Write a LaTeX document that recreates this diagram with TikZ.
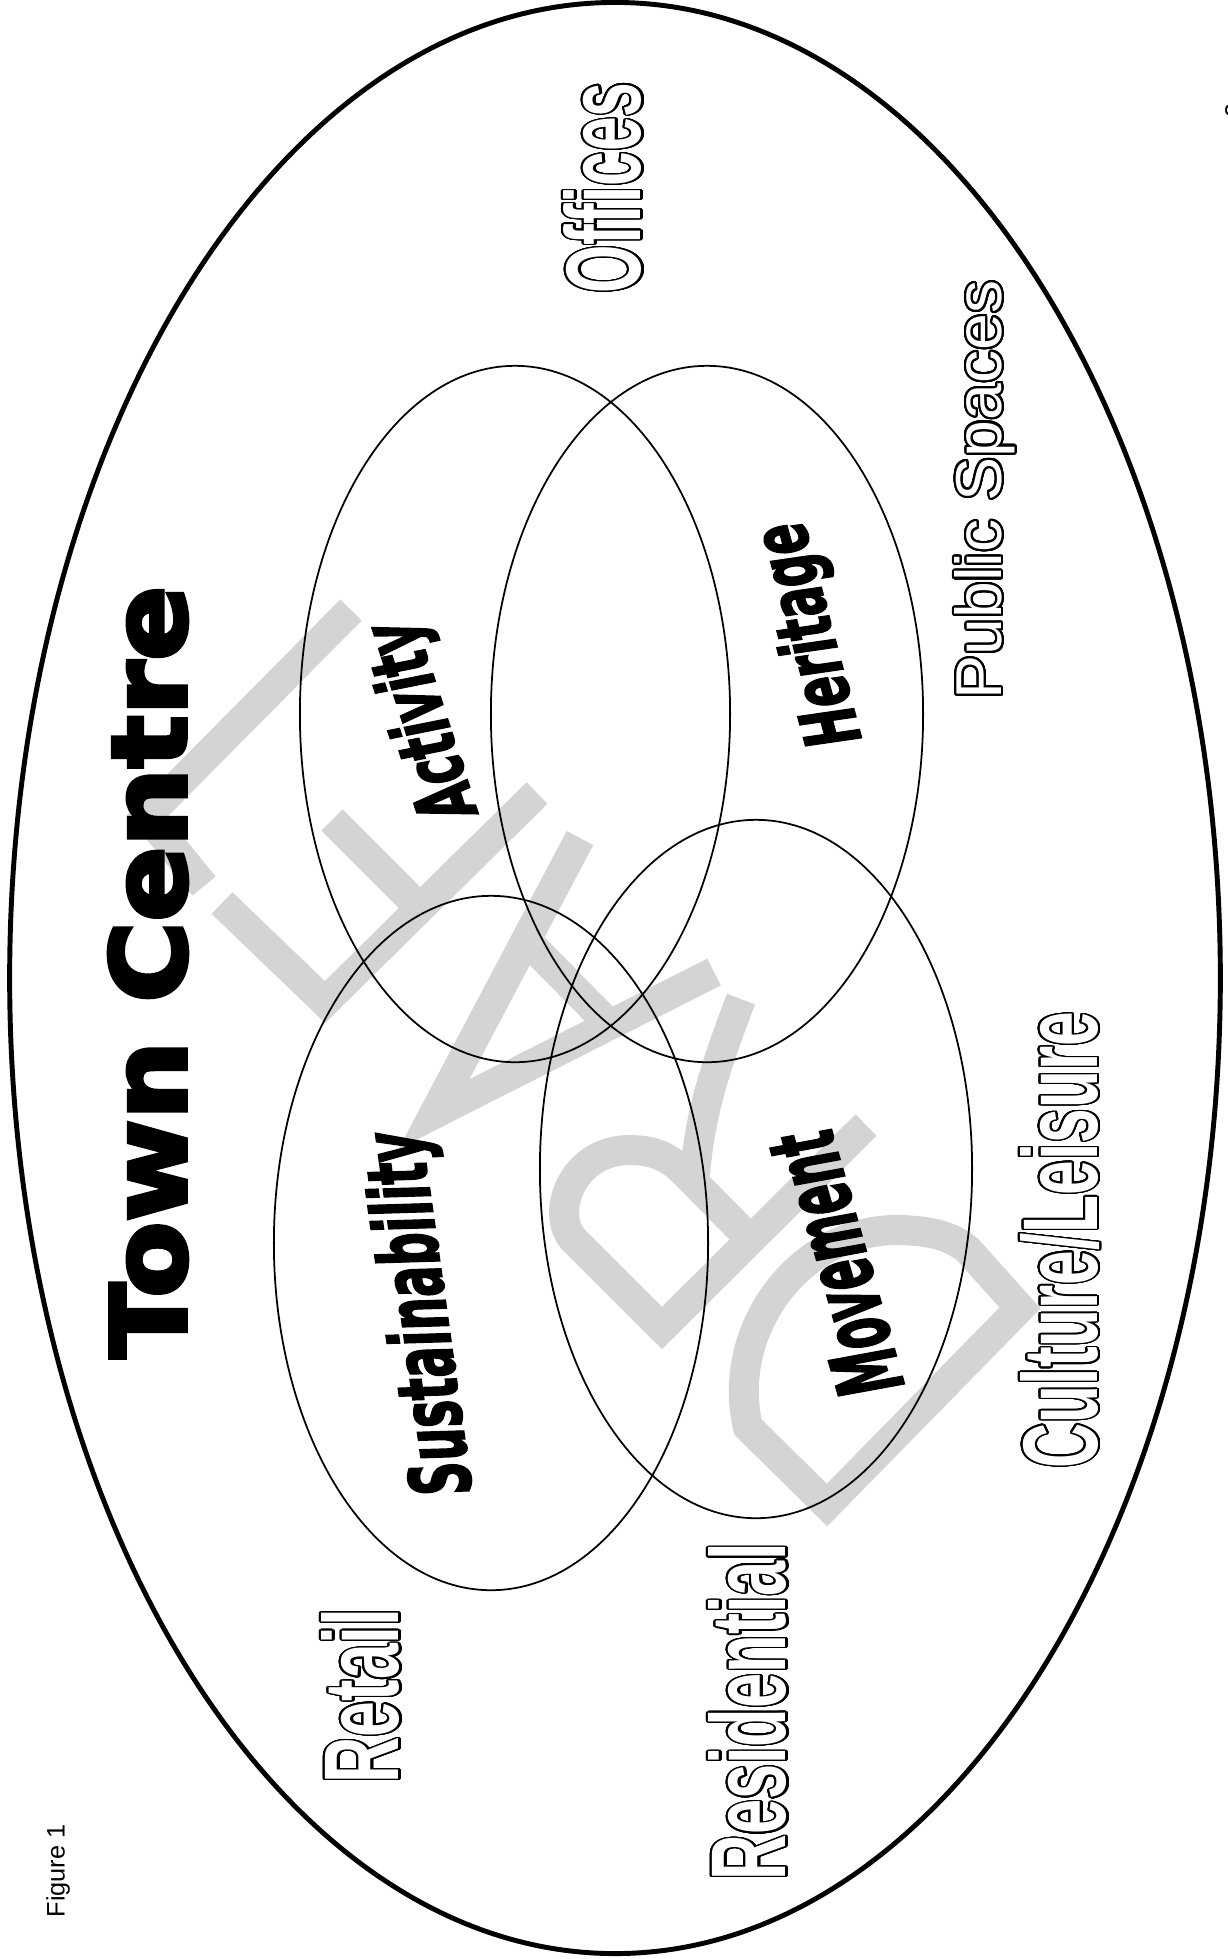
\documentclass[tikz,border=0pt]{standalone}
\usepackage{fontspec}
\setmainfont{Liberation Sans}
\newfontfamily\heavyfont{DejaVu Sans}[BoldFeatures={FakeBold=2.5}, BoldItalicFeatures={FakeBold=2.5}]
\newfontfamily\titlefont{DejaVu Sans}[BoldFeatures={FakeBold=4}]
\usepackage[copies]{contour}
\usetikzlibrary{shapes.geometric}
\contourlength{0.6pt}
\contournumber{32}

\tikzset{
  zone/.style={draw, ellipse, line width=0.5pt, inner sep=0pt},
  hollow/.style={rotate=90, inner sep=0pt, font=\fontsize{30}{30}\selectfont\bfseries},
  theme/.style={inner sep=0pt, font=\heavyfont\fontsize{20}{20}\selectfont\bfseries\itshape},
  logo/.style={draw=black!17, line width=0.30cm, line join=miter, line cap=butt},
}
\newcommand{\hollowtext}[3]{\resizebox{#1}{#2}{\color{white}\contour{black}{#3}}}

\begin{document}
\begin{tikzpicture}[x=0.01cm, y=-0.01cm]
  \useasboundingbox[fill=white] (0,0) rectangle (1228,1959);

  % watermark logo
  \draw[logo] (351,610) -- (147,816) -- (204,886);
  \draw[logo] (332,820) -- (420,908);
  \draw[logo] (537,793) -- (325,1002) -- (222,903);
  \draw[logo] (580,838) -- (434,1114) -- (714,972);
  \draw[logo] (526,940) -- (610,1025);
  \draw[logo] (866,1125) -- (662,1328) -- (574,1240) .. controls (550,1216) and (570,1150) .. (630,1150) .. controls (655,1150) and (668,1158) .. (680,1168) -- (751,1240);
  \draw[logo] (741,999) .. controls (718,1060) and (700,1110) .. (695,1175);
  \draw[logo] (827,1505) -- (748,1427) .. controls (725,1330) and (800,1228) .. (900,1230) .. controls (930,1231) and (950,1235) .. (968,1250) -- (1020,1308) -- cycle;

  % rings
  \node[zone, line width=1.4pt, minimum width=12.10cm, minimum height=19.50cm] (town) at (615,978) {};
  \node[zone, minimum width=4.30cm, minimum height=6.96cm] (activity) at (515,714) {};
  \node[zone, minimum width=4.32cm, minimum height=6.96cm] (heritage) at (707,714) {};
  \node[zone, minimum width=4.34cm, minimum height=6.94cm] (sustain) at (491,1243) {};
  \node[zone, minimum width=4.32cm, minimum height=6.98cm] (movement) at (756,1169) {};

  % title
  \node[inner sep=0pt, rotate=90, font=\titlefont\bfseries\fontsize{30}{30}\selectfont] (title) at (148,972) {\resizebox{7.72cm}{0.77cm}{Town Centre}};

  % themes
  \node[theme, rotate=108] (activitylbl) at (425,720) {\resizebox{2.05cm}{0.60cm}{Activity}};
  \node[theme, rotate=105] (heritagelbl) at (812,634) {\resizebox{2.28cm}{0.58cm}{Heritage}};
  \node[theme, rotate=98] (sustainlbl) at (424,1313) {\resizebox{3.66cm}{0.63cm}{Sustainability}};
  \node[theme, rotate=106] (movementlbl) at (836,1264) {\resizebox{2.70cm}{0.66cm}{Movement}};

  % uses
  \node[hollow] (offices) at (604,188) {\hollowtext{2.11cm}{0.77cm}{Offices}};
  \node[hollow, font=\fontsize{18.6}{18}\selectfont] (public) at (986,490) {\hollowtext{4.19cm}{0.47cm}{Public Spaces}};
  \node[hollow] (culture) at (1061,1240) {\hollowtext{4.56cm}{0.77cm}{Culture/Leisure}};
  \node[hollow] (retail) at (362,1696) {\hollowtext{1.75cm}{0.77cm}{Retail}};
  \node[hollow] (resid) at (749,1712) {\hollowtext{3.37cm}{0.77cm}{Residential}};

  % page furniture
  \node[rotate=90, inner sep=0pt, font=\fontsize{7.2}{7}\selectfont] (figlbl) at (58,1871) {Figure 1};
  \node[rotate=90, inner sep=0pt, font=\fontsize{7.2}{7}\selectfont] (pagenum) at (1234,110) {2};
\end{tikzpicture}
\end{document}
